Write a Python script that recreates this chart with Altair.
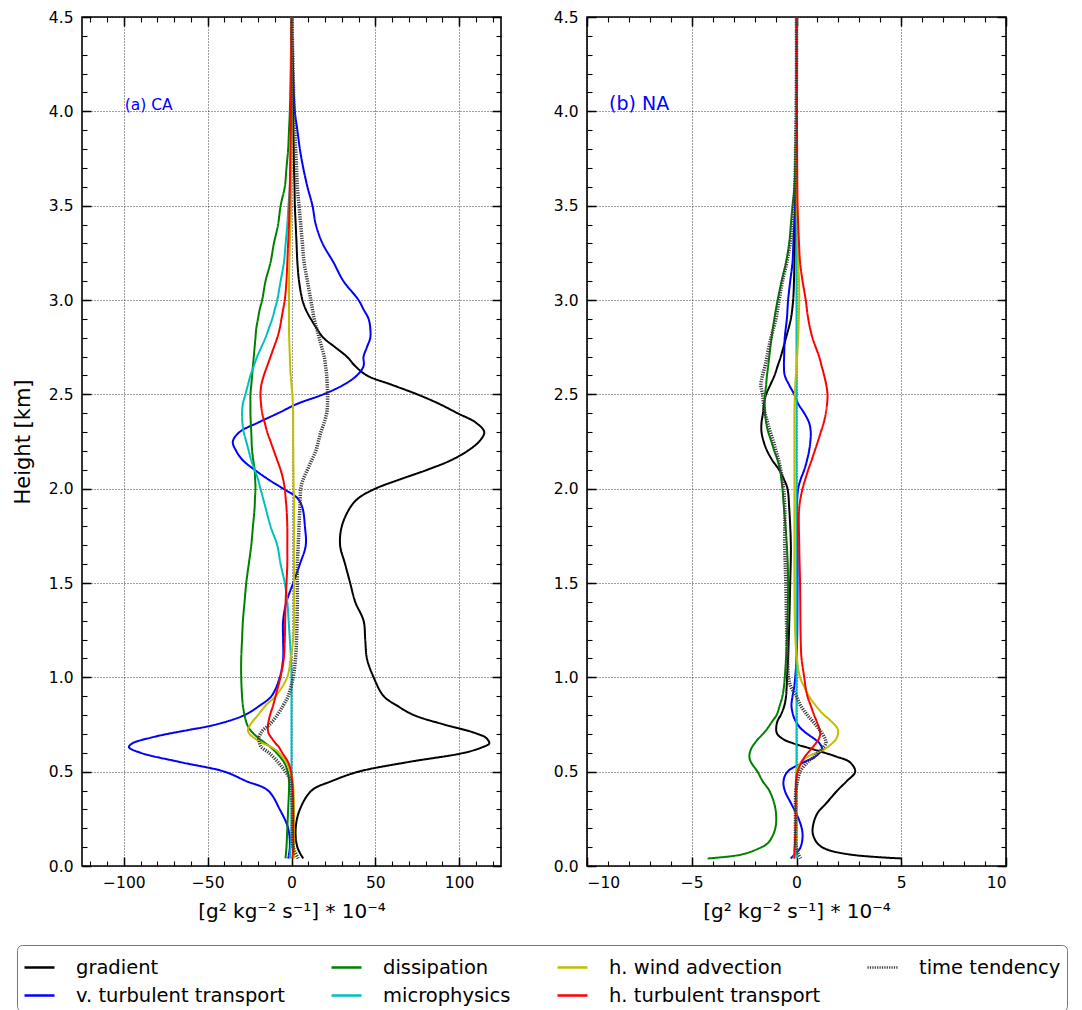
import altair as alt
import pandas as pd

FONT = "DejaVu Sans"

# Budget terms, in the order they are plotted (and listed in the legend, column by column)
SERIES = ["gradient", "v. turbulent transport", "dissipation", "microphysics",
          "h. wind advection", "h. turbulent transport", "time tendency"]
COLORS = {"gradient": "#000000", "v. turbulent transport": "#0000ff",
          "dissipation": "#008000", "microphysics": "#00bfbf",
          "h. wind advection": "#bfbf00", "h. turbulent transport": "#ff0000",
          "time tendency": "#3a3a3a"}
DASHES = {s: [1, 0] for s in SERIES}
DASHES["time tendency"] = [1.2, 1.2]

XTITLE = "[g² kg⁻² s⁻¹] * 10⁻⁴"

# ---------------- (a) CA ----------------
H_A = [0.04, 0.1, 0.2, 0.3, 0.4, 0.45, 0.5, 0.55, 0.6, 0.63, 0.65, 0.68, 0.7, 0.72,
       0.75, 0.8, 0.85, 0.9, 1.0, 1.1, 1.2, 1.3, 1.4, 1.5, 1.6, 1.7, 1.8, 1.9, 1.95,
       2.0, 2.05, 2.1, 2.15, 2.2, 2.25, 2.3, 2.35, 2.4, 2.45, 2.5, 2.55, 2.6, 2.65,
       2.7, 2.75, 2.8, 2.85, 2.9, 2.95, 3.0, 3.1, 3.2, 3.3, 3.4, 3.5, 3.6, 3.7, 3.8,
       3.9, 4.0, 4.2, 4.4, 4.5]
CA_GRADIENT = [7, 3.5, 2.5, 5, 12, 24, 40, 69, 103, 114, 118, 116, 111, 104, 91, 73,
               63, 55, 49, 45, 44,
               43, 38, 35, 32, 29, 30, 35, 40, 50, 65, 81, 95, 105, 112, 115, 110, 99,
               88, 75, 60, 45, 38, 33, 26, 19, 15, 11.5, 8.5, 6.5, 4.5, 3.5, 3, 2.5, 2,
               1.8, 1.5, 1.3, 1.1, 1, 0.6, 0.3, 0.2]
CA_VTURB = [-2, -1, -2, -7, -14, -27, -40, -66, -90, -97, -95, -84, -74, -62, -45, -28,
            -19, -12, -7, -5, -5,
            -5, -3, 1, 5, 8.5, 8, 6.5, 3.5, -5, -14, -22, -29, -33, -35, -31, -20, -8,
            3.5, 19, 31, 39, 43, 43, 45, 47, 47, 46, 43, 40, 31, 25, 18.5, 14.5, 12.5,
            9.5, 7, 5, 3.5, 2, 1, 0.5, 0.3]
CA_DISS = [-3.6, -3, -2.5, -2, -1.5, -1.5, -2.2, -4.5, -9, -12.5, -15.5, -20, -22.5,
           -24.5, -26.5, -28, -29, -29.5, -30, -30, -29.5,
           -29, -28, -27, -25.5, -24, -23, -22, -21.8, -21.5, -21.7, -22, -22.8, -23.5,
           -23.8, -24, -24.3, -24.5, -24.5, -24.5, -24, -23.5, -23, -22.5, -22, -21.5,
           -21, -20, -19, -17.5, -15.5, -12.5, -10.5, -8, -6.5, -4, -3, -2, -1.5, -1,
           -0.5, -0.2, 0]
CA_MICRO = [-1, -0.5, 0, 0, 0, 0, 0, 0, 0, 0, 0, 0, 0, 0, 0, 0, 0, 0, 0, -0.3, -1,
            -1.7, -2.5, -4, -6.5, -8.5, -12.5, -15.5, -17, -18.5, -20, -22, -24, -25.5,
            -27, -28.5, -29.3, -29.5, -29, -27.5, -26, -24.5, -22.5, -20.5, -18, -15.5,
            -13.5, -11.5, -10, -8.5, -6.5, -4.5, -3.5, -2.5, -1.8, -1, -0.6, -0.4, -0.2,
            0, 0, 0, 0]
CA_HWIND = [1.5, 1.5, 1.5, 1.5, 1.2, 0.8, -0.8, -3, -7.5, -12, -17, -22.5, -25, -26,
            -24.5, -20, -15.5, -9.5, -2.6, -0.5, 1,
            1.5, 1.5, 1.5, 1.5, 1.5, 1.5, 1.5, 1.5, 1.3, 1.2, 1.2, 1.1, 1.1, 1, 1, 1, 1,
            0.8, 0.5, 0, -0.5, -0.8, -1, -1.2, -1.4, -1.5, -1.5, -1.5, -1.5, -1.5, -1.3,
            -1, -0.5, -0.3, -0.2, -0.1, 0, 0, 0, 0, 0, 0]
CA_HTURB = [0.5, 1, 1, 1, 0.8, 0.3, -0.3, -2, -5.5, -7.5, -9.5, -12, -13.5, -14.1, -14,
            -12.8, -11, -9.5, -6.6, -4.6, -4,
            -3.8, -3.5, -3, -2.5, -2.5, -2.5, -3, -3.5, -4, -5, -6.5, -8.5, -10.5,
            -12.5, -14.5, -16, -17.5, -18.2, -18.5, -18, -16.5, -14.5, -12.5, -10.5,
            -8.5, -7, -6, -5, -4, -3, -2.5, -2, -1.5, -1.2, -1, -0.8, -0.6, -0.4, -0.3,
            -0.2, -0.1, 0]
CA_TEND = [4, 1, 0.5, 0.5, 0, -0.4, -3.6, -8, -13.5, -18, -19, -19.5, -18.5, -17, -13,
           -8.5, -5, -2, 1, 2.4, 3,
           3.3, 3.5, 3.5, 3.5, 4, 4.5, 5, 5.2, 5.5, 7, 9.5, 12, 14.5, 16, 17.5, 19.5, 21,
           21.5, 21.5, 21.3, 21, 20.3, 19.5, 18, 16.5, 15, 13.5, 12.5, 11.5, 9.5, 7.5,
           6.5, 5.5, 4.5, 3.5, 3, 2.5, 2, 1.5, 1, 0.5, 0.3]

# ---------------- (b) NA ----------------
H_B = [0.04, 0.06, 0.09, 0.12, 0.17, 0.22, 0.28, 0.33, 0.4, 0.45, 0.5, 0.55, 0.58,
       0.62, 0.65, 0.67, 0.7, 0.73, 0.77, 0.8, 0.85, 0.9, 0.95, 1.0, 1.1, 1.2, 1.5,
       1.7, 1.9, 2.0, 2.05, 2.1, 2.15, 2.2, 2.25, 2.3, 2.35, 2.4, 2.45, 2.5, 2.55, 2.6,
       2.65, 2.7, 2.8, 2.9, 3.0, 3.1, 3.2, 3.3, 3.4, 3.5, 3.6, 3.8, 4.0, 4.2, 4.5]
NA_GRADIENT = [5.0, 2.6, 1.4, 1.0, 0.78, 0.8, 1.0, 1.4, 1.95, 2.4, 2.8, 2.55, 1.9,
               0.75, -0.15, -0.6, -0.92, -0.97, -0.9, -0.75, -0.58, -0.5, -0.47, -0.45,
               -0.4, -0.37, -0.3, -0.27, -0.35, -0.43, -0.6, -0.83, -1.15, -1.4, -1.57,
               -1.67, -1.67, -1.6, -1.55, -1.45, -1.25, -1.05, -0.9, -0.75, -0.5, -0.27,
               -0.16, -0.12, -0.1, -0.08, -0.06, -0.05, -0.04, -0.02, -0.01, 0, 0]
NA_VTURB = [-0.27, -0.1, 0.15, 0.25, 0.29, 0.2, -0.02, -0.25, -0.56, -0.62, -0.43,
            0.35, 0.9, 1.22, 1.1, 0.9, 0.52, 0.2, -0.05, -0.16, -0.24, -0.19, -0.11,
            -0.06, 0.0, 0.03, 0.05, 0.05, 0.02, 0.08, 0.2, 0.37, 0.5, 0.6, 0.66, 0.68,
            0.6, 0.37, 0.08, -0.11, -0.35, -0.56, -0.6, -0.59, -0.56, -0.46, -0.4, -0.3,
            -0.19, -0.15, -0.11, -0.07, -0.04, -0.02, 0, 0, 0]
NA_DISS = [-4.24, -2.65, -1.86, -1.38, -1.1, -0.98, -0.98, -1.06, -1.3, -1.62, -1.86,
           -2.17, -2.25, -2.17, -2.0, -1.86, -1.6, -1.38, -1.14, -0.95, -0.8, -0.67,
           -0.6, -0.56, -0.5, -0.46, -0.4, -0.46, -0.6, -0.67, -0.72, -0.78, -0.9,
           -1.06, -1.2, -1.35, -1.45, -1.5, -1.52, -1.5, -1.45, -1.41, -1.35, -1.3,
           -1.19, -1.06, -0.9, -0.71, -0.5, -0.35, -0.27, -0.19, -0.1, -0.05, -0.02,
           0, 0]
NA_MICRO = [0.0] * 57
NA_HWIND = [-0.15, -0.1, -0.05, -0.03, -0.02, -0.02, -0.02, -0.02, -0.02, -0.01, 0.0,
            0.2, 0.55, 1.35, 1.7, 1.87, 1.98, 1.95, 1.63, 1.32, 0.92, 0.6, 0.37, 0.17,
            0.02, -0.05, -0.1, -0.1, -0.1, -0.1, -0.1, -0.1, -0.1, -0.1, -0.1, -0.1,
            -0.1, -0.1, -0.09, -0.08, -0.06, -0.03, 0.0, 0.03, 0.08, 0.11, 0.13, 0.12,
            0.08, 0.06, 0.05, 0.03, 0.02, 0.01, 0, 0, 0]
NA_HTURB = [-0.1, -0.1, -0.1, -0.08, -0.06, -0.05, -0.04, -0.04, -0.03, -0.03, 0.05,
            0.24, 0.4, 0.7, 0.92, 1.05, 1.13, 1.08, 0.95, 0.84, 0.68, 0.52, 0.43, 0.37,
            0.24, 0.2, 0.17, 0.13, 0.13, 0.29, 0.42, 0.56, 0.72, 0.87, 1.02, 1.16, 1.3,
            1.4, 1.46, 1.48, 1.42, 1.32, 1.2, 1.08, 0.76, 0.56, 0.44, 0.29, 0.17, 0.12,
            0.08, 0.05, 0.04, 0.03, 0.02, 0.01, 0.01]
NA_TEND = [0.2, 0.1, 0.0, -0.05, -0.05, -0.05, -0.05, -0.05, -0.03, 0.05, 0.17, 0.52,
           0.85, 1.2, 1.4, 1.38, 1.24, 1.05, 0.75, 0.52, 0.2, 0.0, -0.27, -0.38, -0.43,
           -0.46, -0.51, -0.56, -0.56, -0.62, -0.68, -0.75, -0.85, -0.98, -1.1, -1.25,
           -1.38, -1.5, -1.57, -1.62, -1.7, -1.62, -1.5, -1.41, -1.22, -0.98, -0.83,
           -0.67, -0.46, -0.3, -0.19, -0.12, -0.08, -0.04, -0.02, 0, 0]

CA_TICKS = [-100, -50, 0, 50, 100]
CA_MINOR = list(range(-120, 121, 10))
NA_TICKS = [-10, -5, 0, 5, 10]
NA_MINOR = list(range(-10, 11, 1))
H_TICKS = [0.0, 0.5, 1.0, 1.5, 2.0, 2.5, 3.0, 3.5, 4.0, 4.5]
H_MINOR = [round(0.1 * i, 1) for i in range(46)]


def to_long(heights, columns):
    rows = []
    for name, vals in zip(SERIES, columns):
        assert len(vals) == len(heights), name
        rows += [{"series": name, "h": h, "value": v} for h, v in zip(heights, vals)]
    return pd.DataFrame(rows)


df_a = to_long(H_A, [CA_GRADIENT, CA_VTURB, CA_DISS, CA_MICRO, CA_HWIND, CA_HTURB, CA_TEND])
df_b = to_long(H_B, [NA_GRADIENT, NA_VTURB, NA_DISS, NA_MICRO, NA_HWIND, NA_HTURB, NA_TEND])

LEGEND = alt.Legend(
    title=None, orient="none", legendX=-65, legendY=928, columns=4,
    symbolType="stroke", symbolSize=900, symbolStrokeWidth=2.5,
    labelFont=FONT, labelFontSize=19.5, labelColor="black", labelOffset=20,
    labelLimit=400, columnPadding=41, rowPadding=2, padding=6, gridAlign="each",
    strokeColor="#777777", cornerRadius=5, fillColor="white", symbolLimit=0,
)

MAJOR_LEN, MINOR_LEN = 9, 5


def tick_axis(orient, values, length, width):
    # ticks drawn inward by pulling the axis inside the frame
    return alt.Axis(orient=orient, values=values, tickSize=length, offset=-length,
                    tickWidth=width, tickColor="black", domain=False, grid=False,
                    labels=False, title=None, minExtent=0)


def grid_axis(orient, values):
    return alt.Axis(orient=orient, values=values, ticks=False, labels=False,
                    domain=False, grid=True, gridColor="black", gridDash=[1, 2],
                    gridWidth=0.9, gridOpacity=0.85, title=None, minExtent=0)


def panel(df, xdom, xticks, xminor, note, note_size, ytitle):
    xs = alt.Scale(domain=xdom, nice=False, zero=False)
    ys = alt.Scale(domain=[0, 4.5], nice=False, zero=False)
    base = alt.Chart(df)

    def helper(xaxis, yaxis):
        return base.mark_line(opacity=0).encode(
            x=alt.X("value:Q", scale=xs, axis=xaxis),
            y=alt.Y("h:Q", scale=ys, axis=yaxis),
            order="h:Q",
        )

    grid = helper(grid_axis("bottom", xticks), grid_axis("left", H_TICKS))

    x_main = alt.Axis(orient="bottom", values=xticks, format="d", tickSize=MAJOR_LEN,
                      offset=-MAJOR_LEN, tickWidth=1.5, tickColor="black", domain=False,
                      grid=False, labelFont=FONT, labelFontSize=15.5, labelColor="black",
                      labelPadding=9, title=XTITLE, titleFont=FONT, titleFontSize=20,
                      titleFontWeight="normal", titleColor="black", titlePadding=11)
    y_kw = dict(orient="left", values=H_TICKS, format=".1f", tickSize=MAJOR_LEN,
                offset=-MAJOR_LEN, tickWidth=1.5, tickColor="black", domain=False,
                grid=False, labelFont=FONT, labelFontSize=15.5, labelColor="black",
                labelPadding=9)
    if ytitle:
        y_main = alt.Axis(title=ytitle, titleFont=FONT, titleFontSize=21,
                          titleFontWeight="normal", titleColor="black",
                          titlePadding=15, **y_kw)
    else:
        y_main = alt.Axis(title=None, **y_kw)

    lines = base.transform_filter(alt.datum.series != "time tendency").mark_line(
        strokeWidth=2, interpolate="catmull-rom"
    ).encode(
        x=alt.X("value:Q", scale=xs, axis=x_main),
        y=alt.Y("h:Q", scale=ys, axis=y_main),
        color=alt.Color("series:N", legend=LEGEND,
                        scale=alt.Scale(domain=SERIES,
                                        range=[COLORS[s] for s in SERIES])),
        strokeDash=alt.StrokeDash("series:N", legend=LEGEND,
                                  scale=alt.Scale(domain=SERIES,
                                                  range=[DASHES[s] for s in SERIES])),
        order="h:Q",
    )

    tend = base.transform_filter(alt.datum.series == "time tendency").mark_line(
        color=COLORS["time tendency"], strokeDash=DASHES["time tendency"],
        strokeWidth=3.5, interpolate="catmull-rom"
    ).encode(
        x=alt.X("value:Q", scale=xs, axis=None),
        y=alt.Y("h:Q", scale=ys, axis=None),
        order="h:Q",
    )

    text = alt.Chart(note).mark_text(
        align="left", baseline="alphabetic", color="#0000ff", font=FONT,
        fontSize=note_size, dy=-1
    ).encode(
        x=alt.X("x:Q", scale=xs, axis=None),
        y=alt.Y("y:Q", scale=ys, axis=None),
        text="label:N",
    )

    top_major = helper(tick_axis("top", xticks, MAJOR_LEN, 1.5),
                       tick_axis("right", H_TICKS, MAJOR_LEN, 1.5))
    bottom_minor = helper(tick_axis("bottom", xminor, MINOR_LEN, 1.1),
                          tick_axis("left", H_MINOR, MINOR_LEN, 1.1))
    top_minor = helper(tick_axis("top", xminor, MINOR_LEN, 1.1),
                       tick_axis("right", H_MINOR, MINOR_LEN, 1.1))

    return alt.layer(grid, lines, tend, text, top_major, bottom_minor, top_minor).resolve_axis(
        x="independent", y="independent"
    ).properties(width=419, height=849)


note_a = pd.DataFrame({"x": [-99.5], "y": [4.0], "label": ["(a) CA"]})
note_b = pd.DataFrame({"x": [-8.95], "y": [4.0], "label": ["(b) NA"]})

panel_a = panel(df_a, [-125, 125], CA_TICKS, CA_MINOR, note_a, 15.5, "Height [km]")
panel_b = panel(df_b, [-10, 10], NA_TICKS, NA_MINOR, note_b, 19, None)

chart = alt.hconcat(panel_a, panel_b, spacing=49).properties(
    padding={"left": 11, "top": 9, "right": 5, "bottom": 0},
    background="white",
).configure_view(stroke="black", strokeWidth=1.6)

chart.save("out.html", embed_options={"renderer": "svg", "actions": False})
